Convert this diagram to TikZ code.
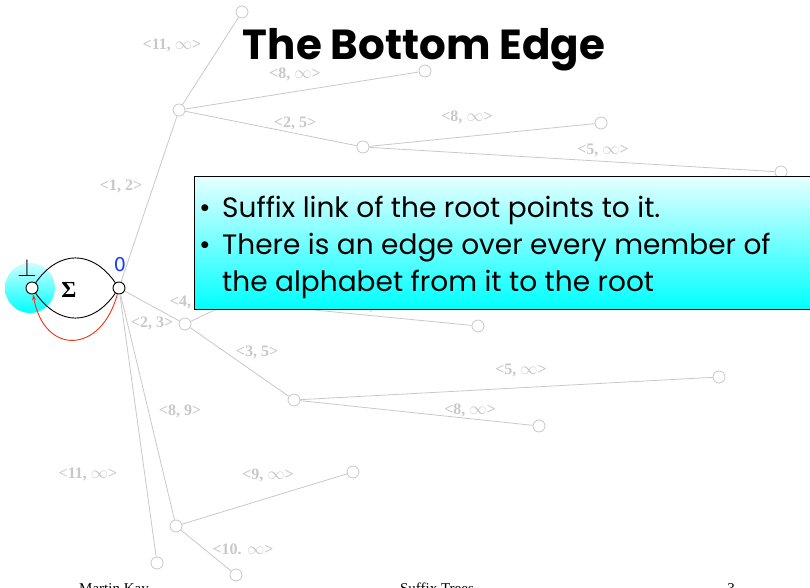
\documentclass[tikz,border=0pt]{standalone}
\usepackage{fontspec}
\setmainfont{Liberation Serif}
\newfontfamily\comic{Poppins}
\newfontfamily\symfont{DejaVu Sans}
\usetikzlibrary{arrows.meta}
\definecolor{lg}{RGB}{200,200,200}
\definecolor{zeroblue}{RGB}{20,60,255}
\definecolor{redlink}{RGB}{240,50,20}
\begin{document}
\begin{tikzpicture}[x=1pt,y=-1pt,
  tnode/.style={circle,draw=lg,fill=white,line width=0.8pt,minimum size=12pt,inner sep=0pt},
  bnode/.style={circle,draw=black,fill=white,line width=0.9pt,minimum size=12pt,inner sep=0pt},
  edge/.style={draw=lg,line width=0.8pt},
  lab/.style={text=lg,font=\fontsize{16}{18}\selectfont\bfseries,inner sep=0pt},
  foot/.style={font=\fontsize{15}{17}\selectfont,anchor=base,inner sep=0pt},
  bul/.style={font=\comic\fontsize{28}{30}\selectfont,anchor=base west,inner sep=0pt}]
\useasboundingbox (0,0) rectangle (810,588);
\clip (0,0) rectangle (810,588);
% cyan disc behind bottom node
\shade[top color=cyan!20,bottom color=cyan] (30,288) circle (25);
% tree nodes
\node[bnode] (bot) at (32,288) {};
\node[bnode] (root) at (119,288) {};
\node[tnode] (n1) at (242,12) {};
\node[tnode] (n2) at (179,110) {};
\node[tnode] (n3) at (425,71) {};
\node[tnode] (n4) at (363,147) {};
\node[tnode] (n5) at (601,123) {};
\node[tnode] (n6) at (781,172) {};
\node[tnode] (n7) at (185,324) {};
\node[tnode] (h) at (232,302) {};
\node[tnode] (n8) at (478,326) {};
\node[tnode] (n9) at (294,400) {};
\node[tnode] (n10) at (719,377) {};
\node[tnode] (n11) at (539,426) {};
\node[tnode] (n12) at (176,526) {};
\node[tnode] (n13) at (353,472) {};
\node[tnode] (n14) at (236,575) {};
\node[tnode] (n15) at (157,563) {};
% edges
\draw[edge] (root) -- (n2);
\draw[edge] (n2) -- (n1);
\draw[edge] (n2) -- (n3);
\draw[edge] (n2) -- (n4);
\draw[edge] (n4) -- (n5);
\draw[edge] (n4) -- (n6);
\draw[edge] (root) -- (n7);
\draw[edge] (n7) -- (h);
\draw[edge] (h) -- (n8);
\draw[edge] (n7) -- (n9);
\draw[edge] (n9) -- (n10);
\draw[edge] (n9) -- (n11);
\draw[edge] (root) -- (n12);
\draw[edge] (root) -- (n15);
\draw[edge] (n12) -- (n13);
\draw[edge] (n12) -- (n14);
% edge labels
\node[lab] (l1) at (172,45) {<11, $\infty$>};
\node[lab] (l2) at (295,74) {<8, $\infty$>};
\node[lab] (l3) at (295,123) {<2, 5>};
\node[lab] (l4) at (467,117) {<8, $\infty$>};
\node[lab] (l5) at (603,151) {<5, $\infty$>};
\node[lab] (l6) at (121,186) {<1, 2>};
\node[lab] (l7) at (191,302) {<4, 5>};
\node[lab] (l8) at (152,323) {<2, 3>};
\node[lab] (l9) at (378,306) {<8, $\infty$>};
\node[lab] (l10) at (257,352) {<3, 5>};
\node[lab] (l11) at (521,370) {<5, $\infty$>};
\node[lab] (l12) at (470,410) {<8, $\infty$>};
\node[lab] (l13) at (180,411) {<8, 9>};
\node[lab] (l14) at (88,474) {<11, $\infty$>};
\node[lab] (l15) at (268,475) {<9, $\infty$>};
\node[lab] (l16) at (243,549) {<10. $\infty$>};
% bottom node and links
\draw[line width=0.9pt] (bot) to[out=55,in=125,looseness=1.3] (root);
\draw[line width=0.9pt] (bot) to[out=-55,in=-125,looseness=1.3] (root);
\draw[redlink,line width=0.9pt,-{Stealth[length=6pt,width=4pt]}] (root) to[out=-105,in=-80,looseness=1.9] (bot);
\node[font=\fontsize{26}{26}\selectfont,inner sep=0pt] (perp) at (27,268) {$\bot$};
\node[font=\fontsize{23}{24}\selectfont\bfseries,inner sep=0pt] (sig) at (69,290) {Σ};
\node[text=zeroblue,font=\symfont\fontsize{19}{20}\selectfont,inner sep=0pt] (zero) at (120,265) {0};
% title
\node[font=\comic\bfseries\fontsize{42}{46}\selectfont,inner sep=0pt] (title) at (424,50) {The Bottom Edge};
% text box
\shade[top color=cyan!10,bottom color=cyan,draw=black,line width=0.9pt] (194,176) rectangle (815,309);
\node[bul] (b1) at (199,217) {•};
\node[bul] (t1) at (222,217) {Suffix link of the root points to it.};
\node[bul] (b2) at (199,254) {•};
\node[bul] (t2) at (222,254) {There is an edge over every member of};
\node[bul] (t3) at (222,291) {the alphabet from it to the root};
% footer
\node[foot] (f1) at (114,593) {Martin Kay};
\node[foot] (f2) at (437,593) {Suffix Trees};
\node[foot] (f3) at (731,593) {3};
\end{tikzpicture}
\end{document}
